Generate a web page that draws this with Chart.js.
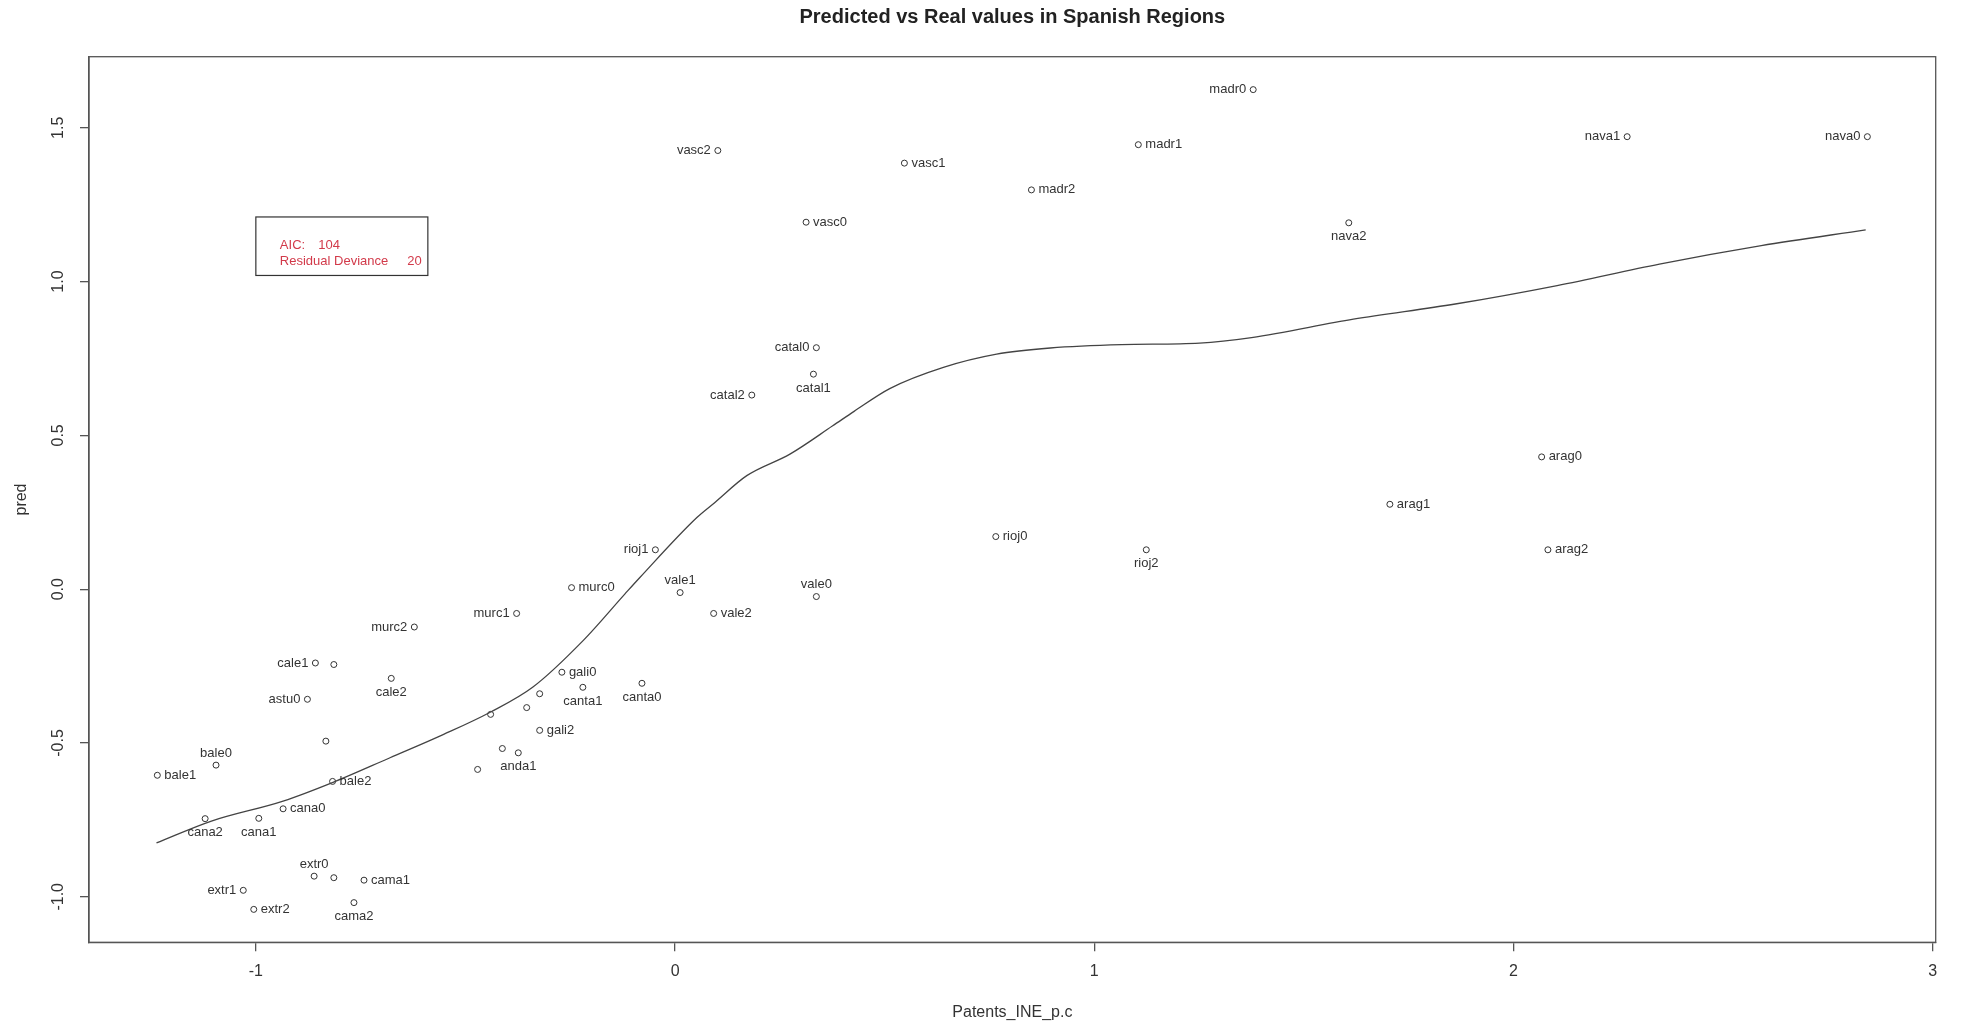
<!DOCTYPE html>
<html>
<head>
<meta charset="utf-8">
<title>Predicted vs Real values in Spanish Regions</title>
<script src="https://cdn.jsdelivr.net/npm/chart.js@4.4.1/dist/chart.umd.min.js"></script>
<style>
  html, body { margin: 0; padding: 0; background: #ffffff; }
  canvas { display: block; }
</style>
</head>
<body>
<canvas id="chart" width="1961" height="1025"></canvas>
<script>
// Region/year observations: patents per capita (x) against model prediction (y)
const regionLabels = [
  "madr0", "madr1", "madr2",
  "vasc0", "vasc1", "vasc2",
  "nava0", "nava1", "nava2",
  "catal0", "catal1", "catal2",
  "arag0", "arag1", "arag2",
  "rioj0", "rioj1", "rioj2",
  "vale0", "vale1", "vale2",
  "murc0", "murc1", "murc2",
  "cale1", "", "cale2",
  "astu0", "",
  "gali0", "canta1", "canta0", "", "", "", "gali2", "", "anda1", "",
  "bale0", "bale1", "bale2",
  "cana0", "cana1", "cana2",
  "extr0", "", "cama1", "extr1", "extr2", "cama2"
];
const patentsX = [
  1.379, 1.105, 0.850,
  0.3125, 0.547, 0.102,
  2.844, 2.271, 1.607,
  0.337, 0.330, 0.183,
  2.067, 1.705, 2.082,
  0.765, -0.047, 1.124,
  0.337, 0.012, 0.092,
  -0.247, -0.378, -0.622,
  -0.858, -0.814, -0.677,
  -0.877, -0.833,
  -0.270, -0.220, -0.079, -0.323, -0.354, -0.440, -0.323, -0.412, -0.374, -0.471,
  -1.095, -1.235, -0.817,
  -0.935, -0.993, -1.121,
  -0.861, -0.814, -0.742, -1.030, -1.005, -0.766
];
const predY = [
  1.624, 1.445, 1.298,
  1.193, 1.385, 1.426,
  1.471, 1.471, 1.191,
  0.785, 0.699, 0.631,
  0.430, 0.276, 0.128,
  0.171, 0.128, 0.128,
  -0.024, -0.011, -0.079,
  0.005, -0.079, -0.123,
  -0.240, -0.245, -0.290,
  -0.358, -0.494,
  -0.270, -0.319, -0.306, -0.340, -0.385, -0.407, -0.459, -0.518, -0.532, -0.586,
  -0.572, -0.605, -0.625,
  -0.714, -0.745, -0.746,
  -0.933, -0.938, -0.946, -0.979, -1.041, -1.019
];
// Which side of its circle each label sits on: L(eft), R(ight), A(bove), B(elow)
const labelSide = [
  "L", "R", "R",
  "R", "R", "L",
  "L", "L", "B",
  "L", "B", "L",
  "R", "R", "R",
  "R", "L", "B",
  "A", "A", "R",
  "R", "L", "L",
  "L", "", "B",
  "L", "",
  "R", "B", "B", "", "", "", "R", "", "B", "",
  "A", "R", "R",
  "R", "B", "B",
  "A", "", "R", "L", "R", "B"
];

// Smoothed fit through the observations
const curveX = [-1.237, -1.106, -0.935, -0.816, -0.680, -0.552, -0.441, -0.339, -0.220,
  -0.120, -0.084, 0.052, 0.095, 0.171, 0.274, 0.376, 0.427, 0.512, 0.640, 0.767, 0.895,
  1.065, 1.251, 1.375, 1.618, 1.861, 2.104, 2.348, 2.591, 2.840];
const curveY = [-0.825, -0.754, -0.689, -0.628, -0.548, -0.472, -0.400, -0.318, -0.168,
  -0.016, 0.038, 0.233, 0.282, 0.369, 0.439, 0.531, 0.578, 0.652, 0.721, 0.764, 0.784,
  0.795, 0.800, 0.818, 0.878, 0.927, 0.987, 1.057, 1.117, 1.168];

const xTickValues = [-1, 0, 1, 2, 3];
const yTickValues = [-1.0, -0.5, 0.0, 0.5, 1.0, 1.5];

const chartTitle = 'Predicted vs Real values in Spanish Regions';
const fitStatNames = ["AIC:", "Residual Deviance"];
const fitStatValues = ["104", "20"];

const FONT = '"Liberation Sans", Arial, Helvetica, sans-serif';
const INK = '#333333';
const AXIS = '#555555';

const pointData = patentsX.map((x, i) => ({ x: x, y: predY[i] }));
const curveData = curveX.map((x, i) => ({ x: x, y: curveY[i] }));

const whiteBackground = {
  id: 'whiteBackground',
  beforeDraw(chart) {
    const ctx = chart.ctx;
    ctx.save();
    ctx.fillStyle = '#ffffff';
    ctx.fillRect(0, 0, chart.width, chart.height);
    ctx.restore();
  }
};

// bold title centred over the plotting region
const plotTitle = {
  id: 'plotTitle',
  afterDraw(chart) {
    const { ctx, chartArea: a } = chart;
    ctx.save();
    ctx.font = 'bold 20px ' + FONT;
    ctx.fillStyle = '#222222';
    ctx.textAlign = 'center';
    ctx.textBaseline = 'middle';
    ctx.fillText(chartTitle, (a.left + a.right) / 2, 17);
    ctx.restore();
  }
};

const plotFrame = {
  id: 'plotFrame',
  afterDraw(chart) {
    const { ctx, chartArea: a } = chart;
    ctx.save();
    ctx.strokeStyle = AXIS;
    ctx.lineWidth = 1.3;
    ctx.strokeRect(a.left, a.top, a.right - a.left, a.bottom - a.top);
    ctx.restore();
  }
};

// y tick labels, written parallel to the axis
const yTickText = {
  id: 'yTickText',
  afterDraw(chart) {
    const ctx = chart.ctx;
    const ys = chart.scales.y;
    ctx.save();
    ctx.font = '16px ' + FONT;
    ctx.fillStyle = INK;
    ctx.textAlign = 'center';
    ctx.textBaseline = 'middle';
    yTickValues.forEach(v => {
      const py = ys.getPixelForValue(v);
      ctx.save();
      ctx.translate(chart.chartArea.left - 30, py);
      ctx.rotate(-Math.PI / 2);
      ctx.fillText(v.toFixed(1), 0, 0);
      ctx.restore();
    });
    ctx.restore();
  }
};

// region names next to each circle
const pointLabels = {
  id: 'pointLabels',
  afterDatasetsDraw(chart) {
    const ctx = chart.ctx;
    const meta = chart.getDatasetMeta(1);
    ctx.save();
    ctx.font = '13px ' + FONT;
    ctx.fillStyle = INK;
    ctx.textBaseline = 'middle';
    meta.data.forEach((el, i) => {
      const text = regionLabels[i];
      if (!text) return;
      let x = el.x, y = el.y;
      switch (labelSide[i]) {
        case 'L': ctx.textAlign = 'right'; x -= 7; break;
        case 'R': ctx.textAlign = 'left'; x += 7; break;
        case 'A': ctx.textAlign = 'center'; y -= 12; break;
        default: ctx.textAlign = 'center'; y += 14; break;
      }
      ctx.fillText(text, x, y);
    });
    ctx.restore();
  }
};

// model fit statistics box
const fitStatsBox = {
  id: 'fitStatsBox',
  afterDraw(chart) {
    const ctx = chart.ctx;
    const left = chart.scales.x.getPixelForValue(-1.0);
    const top = chart.scales.y.getPixelForValue(1.21);
    const w = 172, h = 58.5;
    ctx.save();
    ctx.strokeStyle = '#333333';
    ctx.lineWidth = 1.2;
    ctx.strokeRect(left, top, w, h);
    ctx.font = '13px ' + FONT;
    ctx.fillStyle = '#d23a4a';
    ctx.textBaseline = 'middle';
    ctx.textAlign = 'left';
    ctx.fillText(fitStatNames[0], left + 24, top + 28.5);
    ctx.fillText(fitStatValues[0], left + 62.5, top + 28.5);
    ctx.fillText(fitStatNames[1], left + 24, top + 44);
    ctx.fillText(fitStatValues[1], left + 151.5, top + 44);
    ctx.restore();
  }
};

new Chart(document.getElementById('chart'), {
  type: 'scatter',
  data: {
    datasets: [
      {
        label: 'fit',
        data: curveData,
        showLine: true,
        borderColor: '#444444',
        borderWidth: 1.3,
        pointRadius: 0,
        pointHoverRadius: 0,
        fill: false,
        cubicInterpolationMode: 'monotone'
      },
      {
        label: 'pred',
        data: pointData,
        showLine: false,
        pointStyle: 'circle',
        pointRadius: 3,
        pointBorderWidth: 1,
        pointBorderColor: '#333333',
        pointBackgroundColor: 'rgba(0,0,0,0)'
      }
    ]
  },
  options: {
    responsive: false,
    animation: false,
    devicePixelRatio: 1,
    layout: { padding: { left: 0, right: 25.3, top: 56.7, bottom: 0 } },
    plugins: {
      legend: { display: false },
      tooltip: { enabled: false },
      title: { display: false }
    },
    scales: {
      x: {
        type: 'linear',
        min: -1.398,
        max: 3.007,
        afterBuildTicks(scale) { scale.ticks = xTickValues.map(v => ({ value: v })); },
        afterFit(scale) { scale.height = 82.7; scale.paddingLeft = 0; scale.paddingRight = 0; },
        grid: { display: true, drawOnChartArea: false, drawTicks: true, tickLength: 9, color: AXIS, lineWidth: 1.3 },
        border: { display: true, color: AXIS, width: 1.3 },
        ticks: {
          color: INK,
          font: { family: FONT, size: 16 },
          padding: 11,
          autoSkip: false,
          maxRotation: 0,
          callback: v => String(v)
        },
        title: {
          display: true,
          text: 'Patents_INE_p.c',
          color: INK,
          font: { family: FONT, size: 16 },
          padding: { top: 0, bottom: 2.5 }
        }
      },
      y: {
        type: 'linear',
        min: -1.148,
        max: 1.731,
        afterBuildTicks(scale) { scale.ticks = yTickValues.map(v => ({ value: v })); },
        afterFit(scale) { scale.width = 89; scale.paddingTop = 0; scale.paddingBottom = 0; },
        grid: { display: true, drawOnChartArea: false, drawTicks: true, tickLength: 9, color: AXIS, lineWidth: 1.3 },
        border: { display: true, color: AXIS, width: 1.3 },
        ticks: { display: false },
        title: {
          display: true,
          text: 'pred',
          color: INK,
          font: { family: FONT, size: 16 },
          padding: { top: 12, bottom: 0 }
        }
      }
    }
  },
  plugins: [whiteBackground, plotTitle, plotFrame, yTickText, pointLabels, fitStatsBox]
});
</script>
</body>
</html>
